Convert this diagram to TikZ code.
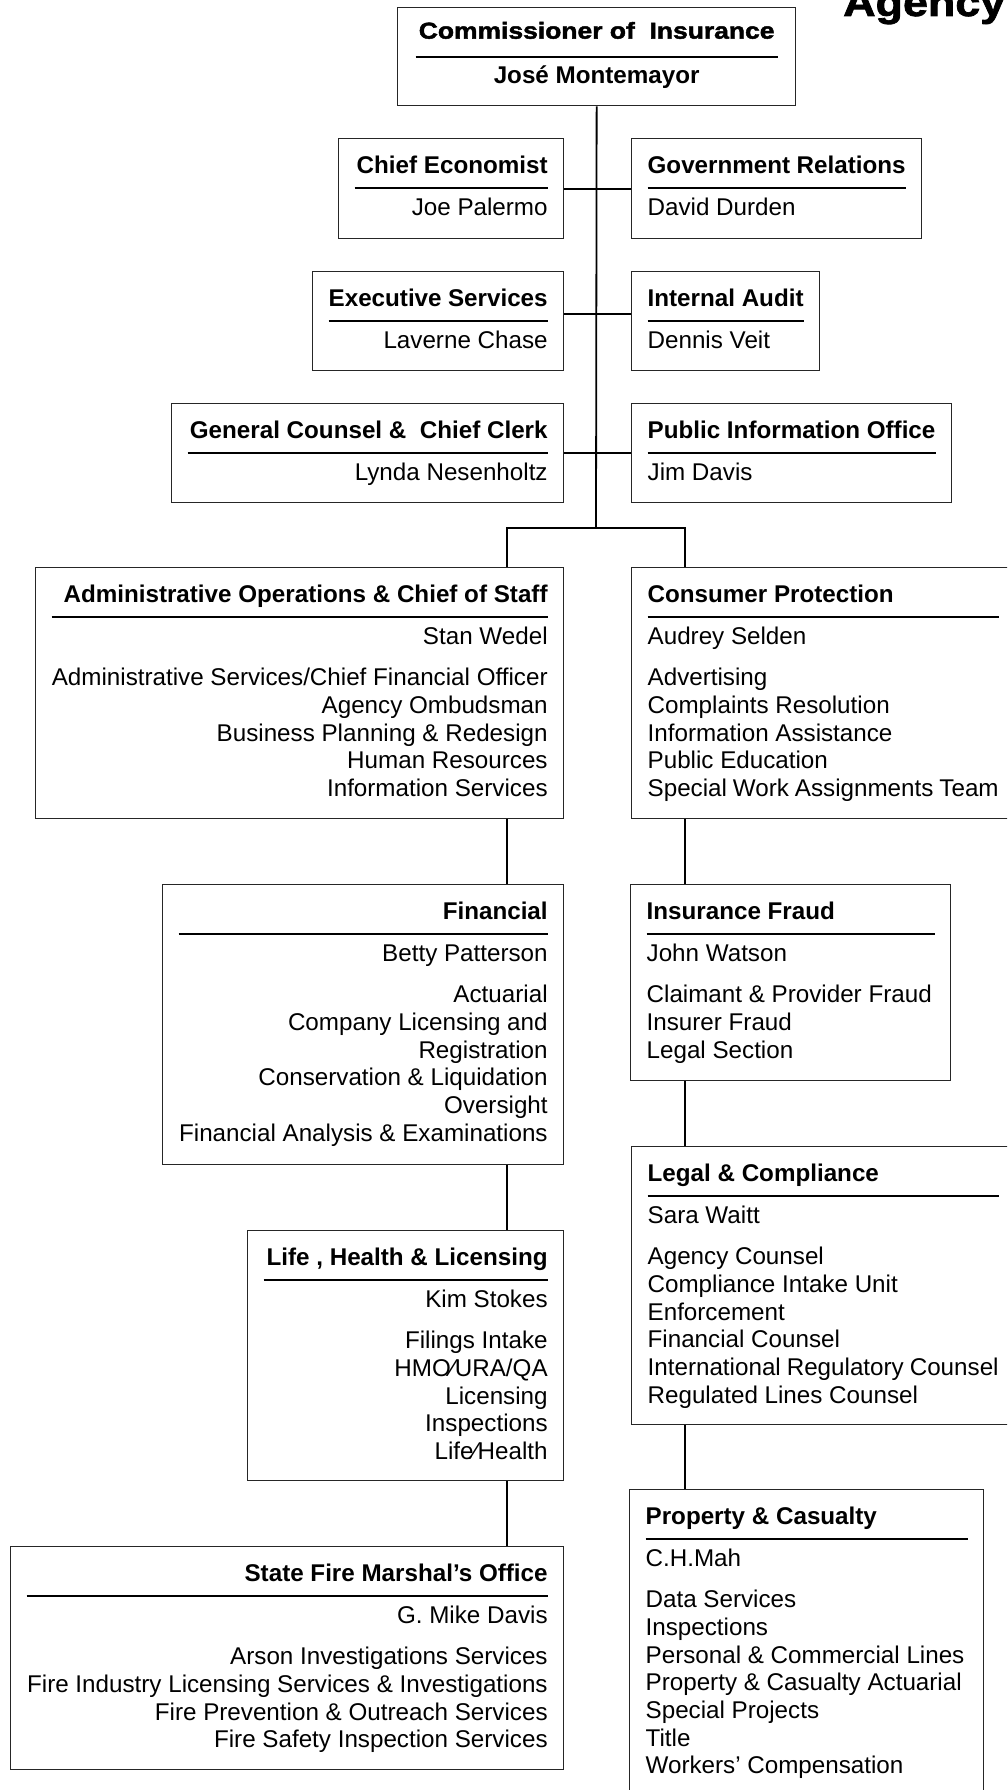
\documentclass[tikz,border=0pt]{standalone}
\usepackage{fontspec}
\setmainfont{Liberation Sans}
\newfontfamily\heavyfont[FakeBold=2,FakeStretch=1.15]{Liberation Sans Bold}
\usetikzlibrary{calc}
\tikzstyle{unit}=[draw=black!85, line width=1.3pt, inner xsep=16pt, inner ysep=0pt, anchor=north west, font=\fontsize{24.2pt}{27.7pt}\selectfont]
\tikzstyle{wire}=[line width=1.8pt]

\newcommand{\unitbody}[3]{%
  \rule[-6pt]{0pt}{41pt}\textbf{#1}\par
  \kern7pt\hrule height 2pt\kern7pt
  \rule[-6pt]{0pt}{26pt}#2\par
  \vskip13.3pt #3\par}
\newcommand{\unitR}[5]{\parbox[t][#2][t]{\dimexpr#1-32pt\relax}{\raggedleft\unitbody{#3}{#4}{#5}}}
\newcommand{\unitL}[5]{\parbox[t][#2][t]{\dimexpr#1-32pt\relax}{\raggedright\unitbody{#3}{#4}{#5}}}

\begin{document}
\begin{tikzpicture}[x=1pt,y=-1pt]
\useasboundingbox (0,0) rectangle (1007,1790);
\clip (0,0) rectangle (1007,1790);

\node [anchor=base west, inner sep=0pt, font=\fontsize{39pt}{40pt}\heavyfont] (banner) at (843,16) {Agency};

\node [unit, inner xsep=18pt] (comm) at (397,7) {\parbox[t][98pt][t]{362pt}{\centering
  \rule[-4pt]{0pt}{35pt}{\fontsize{23pt}{27pt}\heavyfont Commissioner of\ \ Insurance}\par
  \kern13pt\hrule height 2.5pt\kern5.5pt
  \rule{0pt}{20pt}\textbf{José Montemayor}\par}};

\node [unit] (econ) at (338,138) {\unitR{225pt}{100pt}{Chief Economist}{Joe Palermo}{}};
\node [unit] (govrel) at (631,138) {\unitL{290pt}{100pt}{Government Relations}{David Durden}{}};
\node [unit] (exec) at (312,271) {\unitR{251pt}{99pt}{Executive Services}{Laverne Chase}{}};
\node [unit] (audit) at (631,271) {\unitL{188pt}{99pt}{Internal Audit}{Dennis Veit}{}};
\node [unit] (counsel) at (171,403) {\unitR{392pt}{99pt}{General Counsel \&\ \ Chief Clerk}{Lynda Nesenholtz}{}};
\node [unit] (pio) at (631,403) {\unitL{320pt}{99pt}{Public Information Office}{Jim Davis}{}};

\node [unit] (admin) at (35,567) {\unitR{528pt}{251pt}{Administrative Operations \& Chief of Staff}{Stan Wedel}{Administrative Services/Chief Financial Officer\\ Agency Ombudsman\\ Business Planning \& Redesign\\ Human Resources\\ Information Services}};
\node [unit] (consumer) at (631,567) {\unitL{383pt}{251pt}{Consumer Protection}{Audrey Selden}{Advertising\\ Complaints Resolution\\ Information Assistance\\ Public Education\\ Special Work Assignments Team}};

\node [unit] (fin) at (162,884) {\unitR{401pt}{280pt}{Financial}{Betty Patterson}{Actuarial\\ Company Licensing and\\ Registration\\ Conservation \& Liquidation\\ Oversight\\ Financial Analysis \& Examinations}};
\node [unit] (fraud) at (630,884) {\unitL{320pt}{196pt}{Insurance Fraud}{John Watson}{Claimant \& Provider Fraud\\ Insurer Fraud\\ Legal Section}};

\node [unit] (legal) at (631,1146) {\unitL{383pt}{278pt}{Legal \& Compliance}{Sara Waitt}{Agency Counsel\\ Compliance Intake Unit\\ Enforcement\\ Financial Counsel\\ International Regulatory Counsel\\ Regulated Lines Counsel}};
\node [unit] (life) at (247,1230) {\unitR{316pt}{250pt}{Life , Health \& Licensing}{Kim Stokes}{Filings Intake\\ HMO⁄URA/QA\\ Licensing\\ Inspections\\ Life⁄Health}};

\node [unit] (fire) at (10,1546) {\unitR{553pt}{223pt}{State Fire Marshal’s Office}{G. Mike Davis}{Arson Investigations Services\\ Fire Industry Licensing Services \& Investigations\\ Fire Prevention \& Outreach Services\\ Fire Safety Inspection Services}};
\node [unit] (pc) at (629,1489) {\unitL{354pt}{320pt}{Property \& Casualty}{C.H.Mah}{Data Services\\ Inspections\\ Personal \& Commercial Lines\\ Property \& Casualty Actuarial\\ Special Projects\\ Title\\ Workers’ Compensation}};

\coordinate (split) at (596,528);
\coordinate (lcol) at (507,0);
\coordinate (rcol) at (685,0);

\draw [wire] (comm.south) -- (split);
\draw [wire] (econ.east) -- (govrel.west);
\draw [wire] ([yshift=7.5pt]exec.east) -- ([yshift=7.5pt]audit.west);
\draw [wire] (counsel.east) -- (pio.west);
\draw [wire] (admin.north -| lcol) |- (split) -| (consumer.north -| rcol);
\draw [wire] (admin.south -| lcol) -- (fin.north -| lcol);
\draw [wire] (fin.south -| lcol) -- (life.north -| lcol);
\draw [wire] (life.south -| lcol) -- (fire.north -| lcol);
\draw [wire] (consumer.south -| rcol) -- (fraud.north -| rcol);
\draw [wire] (fraud.south -| rcol) -- (legal.north -| rcol);
\draw [wire] (legal.south -| rcol) -- (pc.north -| rcol);
\end{tikzpicture}
\end{document}
